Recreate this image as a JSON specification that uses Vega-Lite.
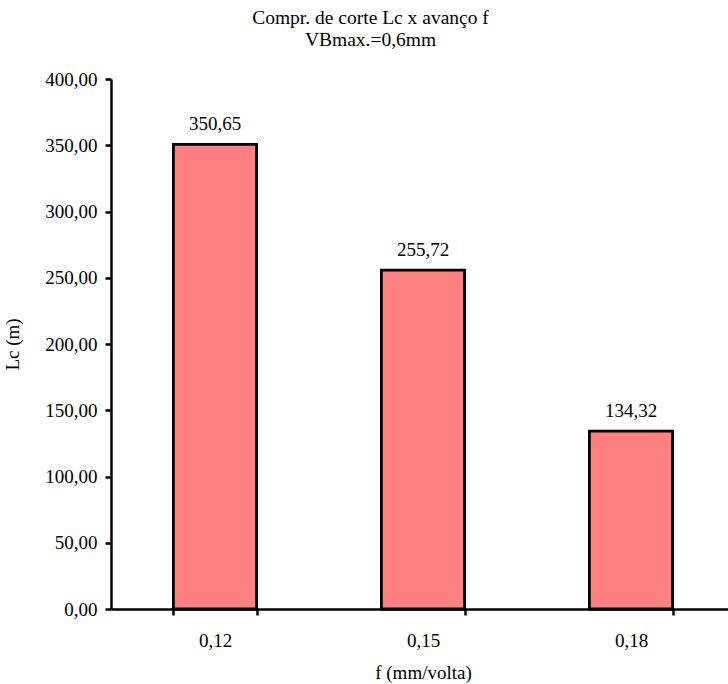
{
  "$schema": "https://vega.github.io/schema/vega-lite/v6.json",
  "autosize": "none",
  "width": 617,
  "height": 530,
  "padding": {"left": 111, "top": 79, "right": 0, "bottom": 75},
  "background": "white",
  "config": {
    "font": "Liberation Serif",
    "view": {"stroke": null},
    "locale": {"number": {"decimal": ",", "thousands": ".", "grouping": [3], "currency": ["", ""]}}
  },
  "title": {
    "text": ["Compr. de corte Lc x avanço f", "VBmax.=0,6mm"],
    "font": "Liberation Serif",
    "fontSize": 19.5,
    "fontWeight": "normal",
    "color": "black",
    "anchor": "middle",
    "dx": -49,
    "offset": 20,
    "lineHeight": 22
  },
  "data": {
    "values": [
      {"f": "0,12", "Lc": 350.65},
      {"f": "0,15", "Lc": 255.72},
      {"f": "0,18", "Lc": 134.32}
    ]
  },
  "encoding": {
    "x": {
      "field": "f",
      "type": "nominal",
      "sort": null,
      "scale": {"range": [0, 624], "paddingInner": 0.6, "paddingOuter": 0.3},
      "axis": {
        "title": "f (mm/volta)",
        "labelAngle": 0,
        "tickBand": "extent",
        "domainColor": "black",
        "domainWidth": 2.5,
        "tickColor": "black",
        "tickWidth": 2.5,
        "tickSize": 6,
        "labelFont": "Liberation Serif",
        "labelFontSize": 19,
        "labelColor": "black",
        "labelPadding": 16,
        "titleFont": "Liberation Serif",
        "titleFontSize": 19,
        "titleFontWeight": "normal",
        "titleColor": "black",
        "titlePadding": 13
      }
    },
    "y": {
      "field": "Lc",
      "type": "quantitative",
      "scale": {"domain": [0, 400], "nice": false},
      "axis": {
        "title": "Lc (m)",
        "values": [0, 50, 100, 150, 200, 250, 300, 350, 400],
        "format": ".2f",
        "grid": false,
        "domainColor": "black",
        "domainWidth": 2.5,
        "tickColor": "black",
        "tickWidth": 2.5,
        "tickSize": 6,
        "labelFont": "Liberation Serif",
        "labelFontSize": 19,
        "labelColor": "black",
        "labelPadding": 8,
        "titleFont": "Liberation Serif",
        "titleFontSize": 19,
        "titleFontWeight": "normal",
        "titleColor": "black",
        "titlePadding": 22
      }
    }
  },
  "layer": [
    {
      "mark": {"type": "bar", "fill": "#FF8080", "stroke": "black", "strokeWidth": 2.8}
    },
    {
      "mark": {"type": "text", "font": "Liberation Serif", "fontSize": 19, "color": "black", "baseline": "alphabetic", "dy": -14},
      "encoding": {
        "text": {"field": "Lc", "type": "quantitative", "format": ".2f"}
      }
    }
  ]
}
